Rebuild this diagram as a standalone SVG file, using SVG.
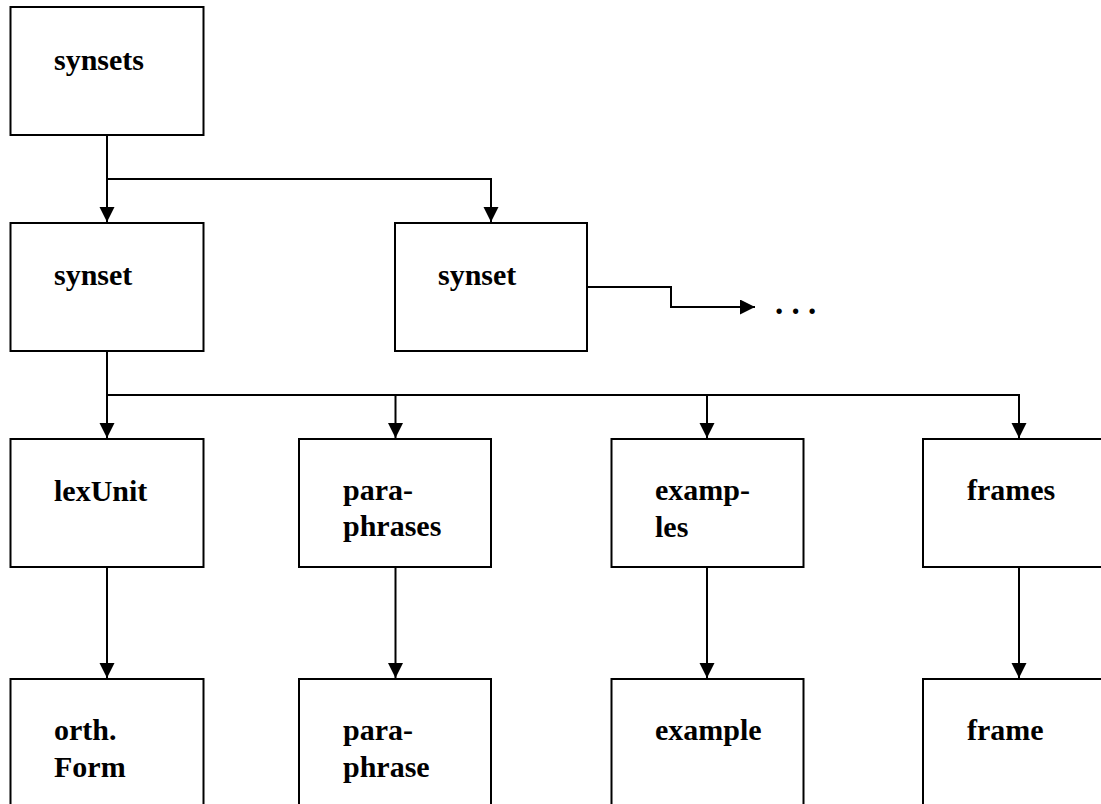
<svg xmlns="http://www.w3.org/2000/svg" width="1101" height="804" viewBox="0 0 1101 804">
<style>
.box{fill:#fff;stroke:#000;stroke-width:2}
.c{fill:none;stroke:#000;stroke-width:2}
text{font-family:"Liberation Serif","Times New Roman",serif;font-weight:bold;font-size:30px;fill:#000}
</style>
<defs>
<marker id="ah" markerUnits="userSpaceOnUse" markerWidth="16" markerHeight="16" refX="15" refY="7.5" orient="auto">
<path d="M0,0 L15,7.5 L0,15 Z" fill="#000"/>
</marker>
</defs>
<rect width="1101" height="804" fill="#fff"/>
<g id="connectors">
<path class="c" d="M107,135 V222" marker-end="url(#ah)"/>
<path class="c" d="M107,179 H491 V222" marker-end="url(#ah)"/>
<path class="c" d="M587,287 H671 V307 H755" marker-end="url(#ah)"/>
<path class="c" d="M107,351 V438" marker-end="url(#ah)"/>
<path class="c" d="M107,395 H1019 V438" marker-end="url(#ah)"/>
<path class="c" d="M395.5,395 V438" marker-end="url(#ah)"/>
<path class="c" d="M707,395 V438" marker-end="url(#ah)"/>
<path class="c" d="M107,567 V678" marker-end="url(#ah)"/>
<path class="c" d="M395.5,567 V678" marker-end="url(#ah)"/>
<path class="c" d="M707,567 V678" marker-end="url(#ah)"/>
<path class="c" d="M1019,567 V678" marker-end="url(#ah)"/>
</g>
<g id="synsets"><rect class="box" x="10.5" y="7" width="193" height="128"/><text x="54" y="70">synsets</text></g>
<g id="synset1"><rect class="box" x="10.5" y="223" width="193" height="128"/><text x="54" y="285">synset</text></g>
<g id="synset2"><rect class="box" x="395" y="223" width="192" height="128"/><text x="438" y="285">synset</text></g>
<g id="more"><text x="775" y="314" style="font-size:33px">. . .</text></g>
<g id="lexUnit"><rect class="box" x="10.5" y="439" width="193" height="128"/><text x="54" y="501">lexUnit</text></g>
<g id="paraphrases"><rect class="box" x="299" y="439" width="192" height="128"/><text x="343" y="500">para-</text><text x="343" y="536">phrases</text></g>
<g id="examples"><rect class="box" x="611.5" y="439" width="192" height="128"/><text x="655" y="500">examp-</text><text x="655" y="537">les</text></g>
<g id="frames"><rect class="box" x="923" y="439" width="192" height="128"/><text x="967" y="500">frames</text></g>
<g id="orthForm"><rect class="box" x="10.5" y="679" width="193" height="140"/><text x="54" y="740">orth.</text><text x="54" y="777">Form</text></g>
<g id="paraphrase"><rect class="box" x="299" y="679" width="192" height="140"/><text x="343" y="740">para-</text><text x="343" y="777">phrase</text></g>
<g id="example"><rect class="box" x="611.5" y="679" width="192" height="140"/><text x="655" y="740">example</text></g>
<g id="frame"><rect class="box" x="923" y="679" width="192" height="140"/><text x="967" y="740">frame</text></g>
</svg>
